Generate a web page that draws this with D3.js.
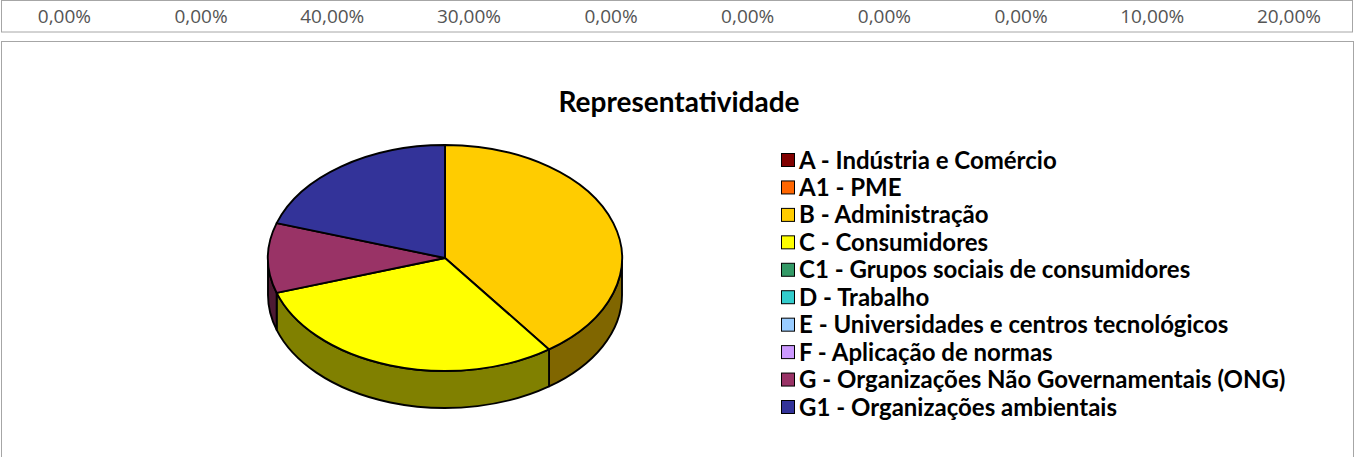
<!DOCTYPE html>
<html>
<head>
<meta charset="utf-8">
<script src="https://cdn.jsdelivr.net/npm/d3@7"></script>
<style>
  html, body { margin: 0; padding: 0; background: #fff; }
  svg { display: block; }
</style>
</head>
<body>
<svg id="chart" width="1355" height="457"></svg>
<script>
// Stakeholder groups and their share of representation (%)
const categories = [
  "A - Indústria e Comércio",
  "A1 - PME",
  "B - Administração",
  "C - Consumidores",
  "C1 - Grupos sociais de consumidores",
  "D - Trabalho",
  "E - Universidades e centros tecnológicos",
  "F - Aplicação de normas",
  "G - Organizações Não Governamentais (ONG)",
  "G1 - Organizações ambientais"
];
const shares = [0, 0, 40, 30, 0, 0, 0, 0, 10, 20];
const sliceColors = [
  "#800000", "#FF6600", "#FFCC00", "#FFFF00", "#339966",
  "#33CCCC", "#99CCFF", "#CC99FF", "#993366", "#333399"
];
const chartTitle = "Representatividade";

const svg = d3.select("#chart");

// Portuguese number formatting for the value row
const pt = d3.formatLocale({ decimal: ",", thousands: ".", grouping: [3], currency: ["R$", ""] });
const fmtPct = pt.format(".2%");

// ---- value row above the chart ----
svg.append("rect")
  .attr("x", 1.5).attr("y", 0.5).attr("width", 1351).attr("height", 31.5)
  .attr("fill", "#fff").attr("stroke", "#a6a6a6").attr("stroke-width", 1);

const xRow = d3.scalePoint().domain(categories).range([91, 1321]);
svg.append("g").selectAll("text")
  .data(categories)
  .join("text")
  .attr("x", d => xRow(d))
  .attr("y", 23)
  .attr("text-anchor", "end")
  .attr("font-family", "'Open Sans', sans-serif")
  .attr("font-size", 19)
  .attr("fill", "#555")
  .text((d, i) => fmtPct(shares[i] / 100));

// ---- chart area ----
svg.append("rect")
  .attr("x", 1.5).attr("y", 41.5).attr("width", 1352).attr("height", 430)
  .attr("fill", "#fff").attr("stroke", "#a6a6a6").attr("stroke-width", 1);

svg.append("text")
  .attr("x", 679).attr("y", 112)
  .attr("text-anchor", "middle")
  .attr("font-family", "Lato, sans-serif")
  .attr("font-weight", "bold")
  .attr("font-size", 28)
  .attr("fill", "#000")
  .text(chartTitle);

// ---- 3D pie ----
const cx = 445, cy = 258, rx = 177, ry = 113, depth = 37;
const px = a => cx + rx * Math.sin(a);
const py = a => cy - ry * Math.cos(a);

const pie = d3.pie().value(d => d.value).sort(null);
const arcs = pie(categories.map((c, i) => ({ name: c, value: shares[i], color: sliceColors[i] })))
  .filter(a => a.data.value > 0);

const shade = c => { const k = d3.rgb(c); return d3.rgb(k.r * 0.5, k.g * 0.5, k.b * 0.5).formatHex(); };

function topPath(a0, a1) {
  const large = (a1 - a0) > Math.PI ? 1 : 0;
  return `M${cx},${cy}L${px(a0)},${py(a0)}A${rx},${ry} 0 ${large} 1 ${px(a1)},${py(a1)}Z`;
}
function sidePath(a0, a1) {
  const large = (a1 - a0) > Math.PI ? 1 : 0;
  return `M${px(a0)},${py(a0)}A${rx},${ry} 0 ${large} 1 ${px(a1)},${py(a1)}` +
         `L${px(a1)},${py(a1) + depth}A${rx},${ry} 0 ${large} 0 ${px(a0)},${py(a0) + depth}Z`;
}

const pieG = svg.append("g");
// outer walls: only the front half of the cylinder is visible
pieG.selectAll("path.side")
  .data(arcs.filter(a => Math.min(a.endAngle, 1.5 * Math.PI) > Math.max(a.startAngle, 0.5 * Math.PI)))
  .join("path")
  .attr("class", "side")
  .attr("d", a => sidePath(Math.max(a.startAngle, 0.5 * Math.PI), Math.min(a.endAngle, 1.5 * Math.PI)))
  .attr("fill", a => shade(a.data.color))
  .attr("stroke", "#000").attr("stroke-width", 1.9).attr("stroke-linejoin", "round");

pieG.selectAll("path.top")
  .data(arcs)
  .join("path")
  .attr("class", "top")
  .attr("d", a => topPath(a.startAngle, a.endAngle))
  .attr("fill", a => a.data.color)
  .attr("stroke", "#000").attr("stroke-width", 1.9).attr("stroke-linejoin", "round");

// ---- legend ----
const yLeg = d3.scalePoint().domain(categories).range([160, 407]);
const leg = svg.append("g").selectAll("g")
  .data(categories)
  .join("g")
  .attr("transform", d => `translate(0,${yLeg(d)})`);

leg.append("rect")
  .attr("x", 781.5).attr("y", -6.5).attr("width", 13).attr("height", 13)
  .attr("fill", (d, i) => sliceColors[i])
  .attr("stroke", "#000").attr("stroke-width", 1);

leg.append("text")
  .attr("x", 799).attr("y", 8.5)
  .attr("font-family", "Lato, sans-serif")
  .attr("font-weight", "bold")
  .attr("font-size", 24)
  .attr("fill", "#000")
  .text(d => d);
</script>
</body>
</html>
